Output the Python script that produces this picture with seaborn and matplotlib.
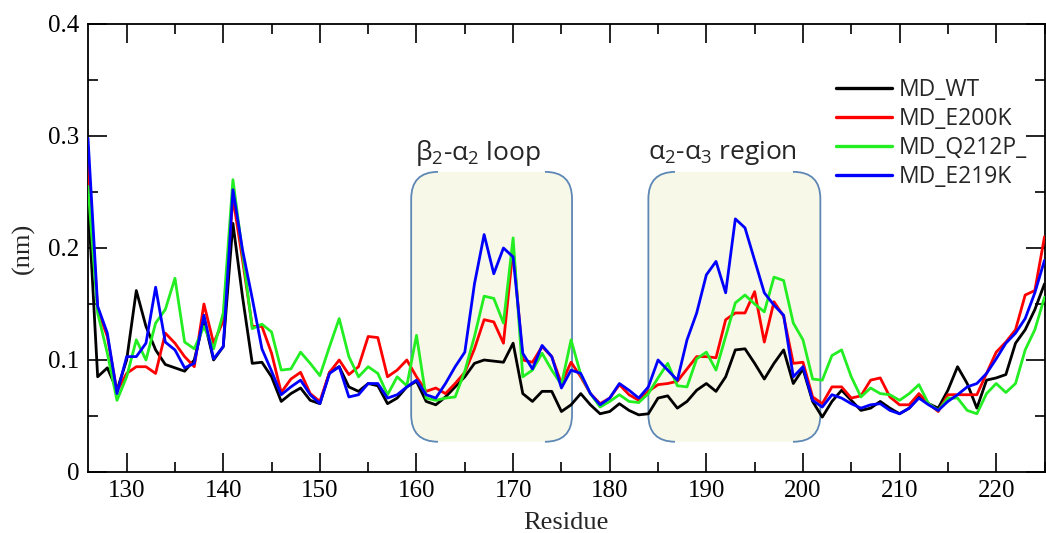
import numpy as np
import pandas as pd
import seaborn as sns
import matplotlib
matplotlib.use("Agg")
import matplotlib.pyplot as plt
from matplotlib.patches import FancyBboxPatch, Rectangle
from matplotlib.ticker import MultipleLocator, FuncFormatter

# ---------------- data ----------------
residues = list(range(126, 226))

md_wt = [0.245, 0.085, 0.093, 0.073, 0.100, 0.162, 0.130, 0.109, 0.096, 0.093,
         0.090, 0.100, 0.136, 0.100, 0.112, 0.222, 0.156, 0.097, 0.098, 0.085,
         0.063, 0.070, 0.075, 0.064, 0.061, 0.089, 0.094, 0.076, 0.072, 0.079,
         0.077, 0.061, 0.066, 0.076, 0.081, 0.063, 0.060, 0.067, 0.076, 0.085,
         0.097, 0.100, 0.099, 0.098, 0.115, 0.070, 0.063, 0.072, 0.072, 0.054,
         0.060, 0.070, 0.060, 0.052, 0.054, 0.061, 0.055, 0.051, 0.052, 0.066,
         0.068, 0.057, 0.063, 0.073, 0.079, 0.072, 0.085, 0.109, 0.110, 0.097,
         0.083, 0.097, 0.109, 0.079, 0.092, 0.063, 0.049, 0.063, 0.073, 0.064,
         0.055, 0.057, 0.063, 0.057, 0.052, 0.057, 0.067, 0.061, 0.057, 0.073,
         0.094, 0.079, 0.057, 0.082, 0.084, 0.087, 0.115, 0.127, 0.145, 0.168]

md_e200k = [0.276, 0.145, 0.121, 0.072, 0.088, 0.094, 0.094, 0.088, 0.124, 0.115,
            0.103, 0.094, 0.150, 0.115, 0.135, 0.245, 0.189, 0.130, 0.130, 0.106,
            0.071, 0.083, 0.089, 0.070, 0.063, 0.089, 0.100, 0.087, 0.094, 0.121,
            0.120, 0.085, 0.091, 0.100, 0.085, 0.072, 0.075, 0.070, 0.079, 0.089,
            0.110, 0.136, 0.134, 0.115, 0.200, 0.100, 0.098, 0.112, 0.103, 0.079,
            0.098, 0.085, 0.070, 0.061, 0.066, 0.078, 0.069, 0.064, 0.072, 0.078,
            0.079, 0.081, 0.092, 0.103, 0.103, 0.102, 0.136, 0.142, 0.142, 0.161,
            0.116, 0.152, 0.139, 0.097, 0.098, 0.067, 0.061, 0.076, 0.076, 0.066,
            0.068, 0.082, 0.084, 0.067, 0.060, 0.060, 0.070, 0.061, 0.054, 0.069,
            0.069, 0.069, 0.069, 0.088, 0.107, 0.116, 0.127, 0.158, 0.162, 0.210]

md_q212p = [0.255, 0.142, 0.106, 0.064, 0.085, 0.118, 0.100, 0.133, 0.145, 0.173,
            0.116, 0.110, 0.130, 0.110, 0.142, 0.261, 0.195, 0.128, 0.132, 0.125,
            0.091, 0.092, 0.107, 0.097, 0.086, 0.112, 0.137, 0.103, 0.085, 0.094,
            0.088, 0.069, 0.085, 0.077, 0.122, 0.066, 0.064, 0.066, 0.067, 0.090,
            0.121, 0.157, 0.155, 0.133, 0.209, 0.085, 0.091, 0.106, 0.091, 0.078,
            0.118, 0.087, 0.070, 0.058, 0.063, 0.069, 0.063, 0.062, 0.070, 0.084,
            0.097, 0.077, 0.076, 0.101, 0.107, 0.091, 0.121, 0.151, 0.158, 0.150,
            0.143, 0.174, 0.171, 0.133, 0.118, 0.083, 0.082, 0.104, 0.109, 0.085,
            0.067, 0.075, 0.070, 0.069, 0.064, 0.070, 0.078, 0.061, 0.055, 0.066,
            0.066, 0.055, 0.052, 0.070, 0.079, 0.071, 0.079, 0.109, 0.127, 0.156]

md_e219k = [0.298, 0.148, 0.124, 0.070, 0.103, 0.103, 0.115, 0.165, 0.116, 0.109,
            0.093, 0.097, 0.140, 0.101, 0.112, 0.252, 0.198, 0.155, 0.110, 0.090,
            0.069, 0.076, 0.082, 0.069, 0.061, 0.088, 0.094, 0.067, 0.069, 0.079,
            0.079, 0.066, 0.069, 0.076, 0.082, 0.069, 0.066, 0.079, 0.094, 0.107,
            0.168, 0.212, 0.177, 0.200, 0.192, 0.106, 0.092, 0.113, 0.103, 0.075,
            0.091, 0.088, 0.070, 0.060, 0.066, 0.079, 0.073, 0.066, 0.076, 0.100,
            0.091, 0.082, 0.118, 0.142, 0.176, 0.188, 0.160, 0.226, 0.218, 0.189,
            0.160, 0.149, 0.140, 0.085, 0.094, 0.064, 0.058, 0.069, 0.066, 0.061,
            0.057, 0.060, 0.061, 0.055, 0.052, 0.057, 0.066, 0.060, 0.055, 0.063,
            0.069, 0.076, 0.079, 0.088, 0.101, 0.115, 0.124, 0.137, 0.160, 0.189]

series_names = ["MD_WT", "MD_E200K", "MD_Q212P_", "MD_E219K"]
series_colors = ["#000000", "#ff0000", "#22ee22", "#0000ff"]

# highlighted regions: (label, residue start, residue end)
regions = [("β$_2$-α$_2$ loop", 159.45, 176.1),
           ("α$_2$-α$_3$ region", 184.0, 201.8)]
region_label_x = [166.4, 191.7]

# ---------------- long table for seaborn ----------------
df = pd.DataFrame({
    "Residue": residues * 4,
    "RMSF": md_wt + md_e200k + md_q212p + md_e219k,
    "series": sum([[n] * len(residues) for n in series_names], []),
})

sns.set_style("ticks")
plt.rcParams["font.family"] = ["Liberation Serif", "DejaVu Serif"]
plt.rcParams["mathtext.default"] = "regular"

fig = plt.figure(figsize=(10.46, 5.33), dpi=100)
ax = fig.add_axes([88 / 1046, 1 - 472 / 533, (1044.5 - 88) / 1046, (472 - 24) / 533])

sns.lineplot(data=df, x="Residue", y="RMSF", hue="series", hue_order=series_names,
             palette=series_colors, linewidth=2.0, ax=ax, zorder=3)

ax.set_xlim(126, 225)
ax.set_ylim(0, 0.4)

# ---------------- shaded regions with bracket outlines ----------------
y0, y1 = 0.027, 0.268
rad = 2.8
asp = 0.0241 / rad
for (lab, xa, xb), lx in zip(regions, region_label_x):
    fill = FancyBboxPatch((xa, y0), xb - xa, y1 - y0,
                          boxstyle=f"round,pad=0,rounding_size={rad}",
                          mutation_aspect=asp, facecolor="#f8f8e8",
                          edgecolor="none", zorder=1)
    ax.add_patch(fill)
    # only the left and right sides (with their corners) are outlined
    for cx in [xa - 0.5, xb - rad]:
        edge = FancyBboxPatch((xa, y0), xb - xa, y1 - y0,
                              boxstyle=f"round,pad=0,rounding_size={rad}",
                              mutation_aspect=asp, facecolor="none",
                              edgecolor="#5d87b5", linewidth=1.3, zorder=2)
        ax.add_patch(edge)
        clip = Rectangle((cx, y0 - 0.01), rad + 0.5, y1 - y0 + 0.02,
                         transform=ax.transData)
        edge.set_clip_path(clip)
    ax.text(lx, 0.285, lab, ha="center", va="center", fontsize=19,
            family=["Open Sans", "DejaVu Sans"], zorder=4)

# ---------------- axes styling ----------------
ax.xaxis.set_major_locator(MultipleLocator(10))
ax.xaxis.set_minor_locator(MultipleLocator(5))
ax.yaxis.set_major_locator(MultipleLocator(0.1))
ax.yaxis.set_minor_locator(MultipleLocator(0.05))
ax.yaxis.set_major_formatter(FuncFormatter(lambda v, p: "0" if abs(v) < 1e-9 else f"{v:.1f}"))
ax.tick_params(which="both", direction="in", top=True, right=True,
               color="black", width=1.2, labelsize=18, labelcolor="black")
ax.tick_params(which="major", length=14, pad=6)
ax.tick_params(which="minor", length=7)
for s in ax.spines.values():
    s.set_color("black")
    s.set_linewidth(1.3)

ax.set_xlabel("Residue", fontsize=19, labelpad=7)
ax.set_ylabel("(nm)", fontsize=19, labelpad=10)

h, l = ax.get_legend_handles_labels()
for hh in h:
    hh.set_linewidth(2.4)
ax.legend(h, l, loc="upper left", bbox_to_anchor=(0.782, 0.88), frameon=False,
          prop={"family": ["Open Sans", "DejaVu Sans"], "size": 16.5},
          handlelength=2.45, handletextpad=0.3, labelspacing=0.22,
          borderaxespad=0, borderpad=0)

fig.savefig("out.png", dpi=100)
